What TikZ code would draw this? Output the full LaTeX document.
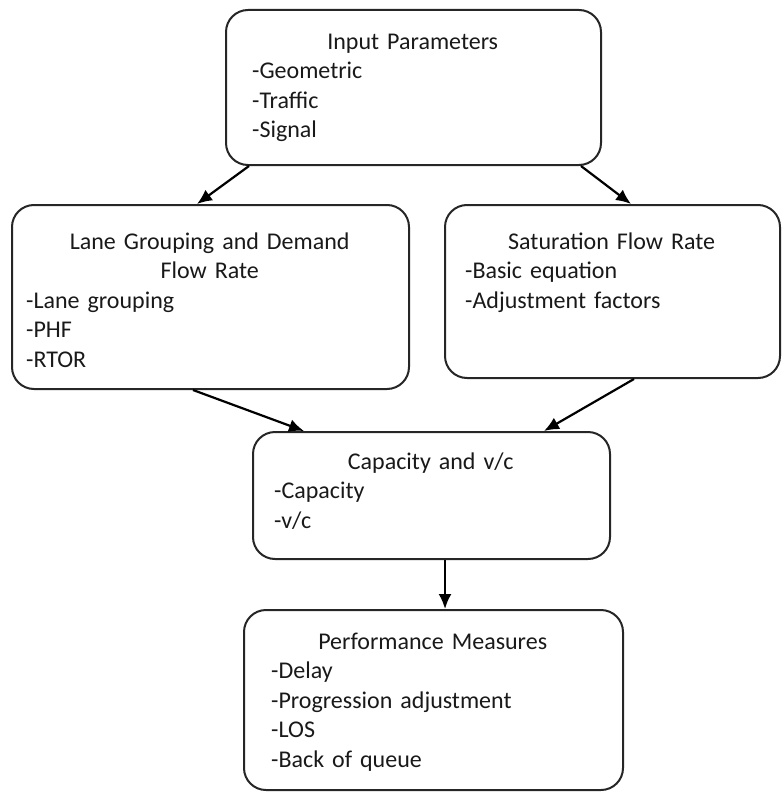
\documentclass[tikz,border=0pt]{standalone}
\usepackage{fontspec}
\setmainfont{Carlito}
\usetikzlibrary{arrows.meta}

\tikzset{
	box/.style={draw=black!85, line width=2pt, rounded corners=22pt, inner sep=0pt},
	txt/.style={anchor=base west, inner sep=0pt, align=left, text=black!90, font=\fontsize{24}{29.5}\selectfont},
	arr/.style={line width=2.2pt, -{Latex[length=15pt,width=13pt]}}
}
\newcommand{\ttl}[1]{\makebox[\linewidth][c]{#1}}

\begin{document}
\begin{tikzpicture}[x=1pt, y=-1pt]
		\useasboundingbox (0,0) rectangle (782,792);
		%boxes
		\node (input) at (413.5, 87.5) [box, minimum width=375pt, minimum height=155pt]{};
		\node (lane) at (210.5, 297) [box, minimum width=397pt, minimum height=184pt]{};
		\node (sat) at (612.5, 291.5) [box, minimum width=335pt, minimum height=173pt]{};
		\node (cap) at (431.5, 495.5) [box, minimum width=357pt, minimum height=127pt]{};
		\node (perf) at (433.5, 700) [box, minimum width=379pt, minimum height=180pt]{};
		
		%texts
		\node (inputtxt) at ([xshift=27pt, yshift=-40pt]input.north west) [txt, text width=321pt]{\ttl{Input Parameters}\\-Geometric\\-Traffic\\-Signal};
		\node (lanetxt) at ([xshift=15pt, yshift=-45pt]lane.north west) [txt, text width=367pt]{\ttl{Lane Grouping and Demand}\\\ttl{Flow Rate}\\-Lane grouping\\-PHF\\-RTOR};
		\node (sattxt) at ([xshift=21pt, yshift=-45pt]sat.north west) [txt, text width=293pt]{\ttl{Saturation Flow Rate}\\-Basic equation\\-Adjustment factors};
		\node (captxt) at ([xshift=22pt, yshift=-38pt]cap.north west) [txt, text width=313pt]{\ttl{Capacity and v/c}\\-Capacity\\-v/c};
		\node (perftxt) at ([xshift=28pt, yshift=-40pt]perf.north west) [txt, text width=323pt]{\ttl{Performance Measures}\\-Delay\\-Progression adjustment\\-LOS\\-Back of queue};
		
		%arrows
		\draw[arr] ([xshift=24pt]input.south west) -- ([xshift=186pt]lane.north west);
		\draw[arr] ([xshift=-21pt]input.south east) -- ([xshift=187pt]sat.north west);
		\draw[arr] ([xshift=182pt]lane.south west) -- ([xshift=52pt]cap.north west);
		\draw[arr] ([xshift=190pt]sat.south west) -- ([xshift=292pt]cap.north west);
		\draw[arr] ([xshift=13.5pt]cap.south) -- ([xshift=13.5pt]cap.south |- perf.north);
\end{tikzpicture}
\end{document}
